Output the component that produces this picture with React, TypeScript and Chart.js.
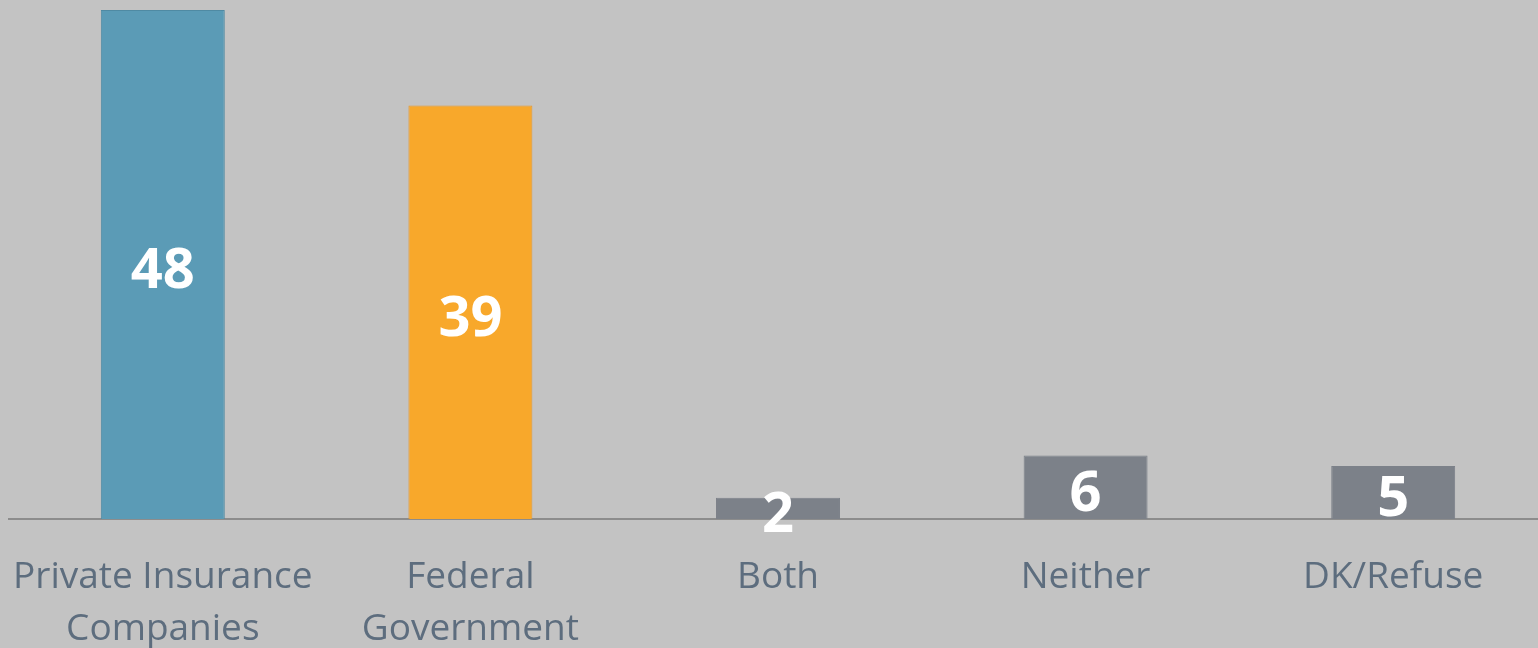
import React, { useEffect, useRef } from "react";
import { Chart, registerables } from "chart.js";

Chart.register(...registerables);

const categories: (string | string[])[] = [
  ["Private Insurance", "Companies"],
  ["Federal", "Government"],
  "Both",
  "Neither",
  "DK/Refuse",
];
const values: number[] = [48, 39, 2, 6, 5];
const barColors: string[] = ["#5b9bb6", "#f8a82b", "#7c8189", "#7c8189", "#7c8189"];
const borderColors: string[] = ["#4f8aa3", "#e8982a", "#7c8189", "#7c8189", "#7c8189"];

const valueLabels = {
  id: "valueLabels",
  afterDatasetsDraw(chart: any) {
    const ctx = chart.ctx;
    const meta = chart.getDatasetMeta(0);
    ctx.save();
    ctx.fillStyle = "#ffffff";
    ctx.font = "bold 56px 'Open Sans'";
    ctx.textAlign = "center";
    ctx.textBaseline = "middle";
    meta.data.forEach((bar: any, i: number) => {
      const y = (bar.y + bar.base) / 2;
      ctx.fillText(String(values[i]), bar.x, y + 8);
    });
    ctx.restore();
  },
};

const background = {
  id: "bg",
  beforeDraw(chart: any) {
    const ctx = chart.ctx;
    ctx.save();
    ctx.fillStyle = "#c3c3c3";
    ctx.fillRect(0, 0, chart.width, chart.height);
    ctx.restore();
  },
};

export default function App() {
  const ref = useRef<HTMLCanvasElement | null>(null);
  useEffect(() => {
    if (!ref.current) return;
    const chart = new Chart(ref.current, {
      type: "bar",
      data: {
        labels: categories,
        datasets: [
          {
            data: values,
            backgroundColor: barColors,
            borderColor: borderColors,
            borderWidth: 1,
            barPercentage: 0.403,
            categoryPercentage: 1,
          },
        ],
      },
      options: {
        animation: false,
        responsive: true,
        maintainAspectRatio: false,
        layout: { padding: { left: 9, right: 0, top: 10, bottom: 0 } },
        plugins: { legend: { display: false }, tooltip: { enabled: false } },
        scales: {
          x: {
            grid: { display: false, drawTicks: false },
            border: { display: true, color: "#8c8c8c", width: 2 },
            ticks: {
              color: "#5d6d7e",
              font: { family: "'Open Sans'", size: 37, lineHeight: 1.41 },
              padding: 32,
              maxRotation: 0,
              autoSkip: false,
            },
            afterFit: (scale: any) => {
              scale.height = 129;
              scale.paddingLeft = 0;
              scale.paddingRight = 0;
            },
          },
          y: {
            display: false,
            min: 0,
            max: 48,
          },
        },
      },
      plugins: [background, valueLabels],
    });
    return () => chart.destroy();
  }, []);
  return (
    <div
      style={{
        position: "fixed",
        left: 0,
        top: 0,
        width: 1538,
        height: 648,
        overflow: "hidden",
        background: "#c3c3c3",
      }}
    >
      <div style={{ position: "absolute", left: 0, top: 0, width: 1547, height: 648 }}>
        <canvas ref={ref} />
      </div>
    </div>
  );
}
